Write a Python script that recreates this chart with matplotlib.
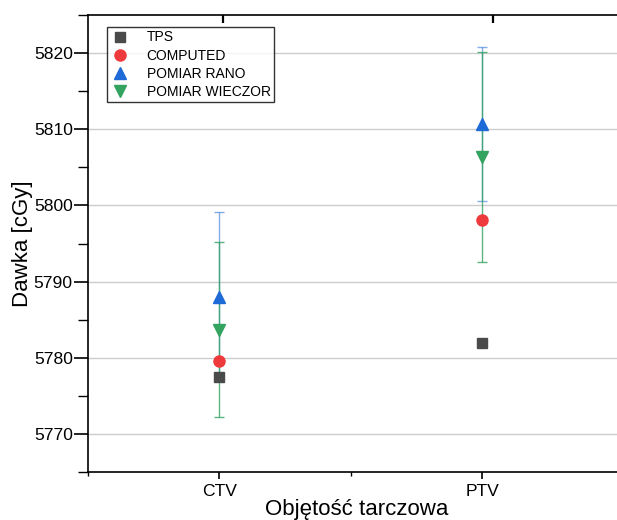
import matplotlib
matplotlib.use("Agg")
import matplotlib.pyplot as plt
import matplotlib.transforms as mtransforms
from matplotlib.lines import TICKDOWN
from matplotlib.ticker import MultipleLocator, NullLocator

plt.rcParams['font.family'] = ['Liberation Sans', 'DejaVu Sans']

categories = ["CTV", "PTV"]
tps = [5777.5, 5781.9]
computed = [5779.6, 5798.1]
rano = [5788.0, 5810.7]
rano_err = [11.1, 10.1]
wieczor = [5783.7, 5806.4]
wieczor_err = [11.5, 13.8]

c_tps = "#4a4a4a"
c_comp = "#ee3a3c"
c_rano = "#1e6ad6"
c_wiec = "#33a360"

W, H = 617, 520
fig = plt.figure(figsize=(W / 100, H / 100), dpi=100)
left, right, top, bottom = 88, 700, 15, 472
aw, ah = right - left, bottom - top
ax = fig.add_axes([left / W, (H - bottom) / H, aw / W, ah / H])

x = [1, 2]
px_per_unit = 262.7
ax.set_xlim(0.5, 0.5 + aw / px_per_unit)
ax.set_ylim(5765, 5825)

ax.errorbar(x, rano, yerr=rano_err, fmt="none", ecolor=c_rano, elinewidth=1.0,
            capsize=3.3, capthick=1.0, alpha=0.55, zorder=2)
ax.errorbar(x, wieczor, yerr=wieczor_err, fmt="none", ecolor=c_wiec, elinewidth=1.0,
            capsize=3.3, capthick=1.0, alpha=0.8, zorder=2)

ax.plot(x, tps, ls="none", marker="s", ms=7, color=c_tps, label="TPS", zorder=3)
ax.plot(x, computed, ls="none", marker="o", ms=8, color=c_comp, label="COMPUTED", zorder=3)
ax.plot(x, rano, ls="none", marker="^", ms=9, color=c_rano, label="POMIAR RANO", zorder=3)
ax.plot(x, wieczor, ls="none", marker="v", ms=9, color=c_wiec, label="POMIAR WIECZOR", zorder=3)

ax.set_xticks(x)
ax.set_xticklabels(categories)
ax.xaxis.set_minor_locator(NullLocator())
ax.yaxis.set_major_locator(MultipleLocator(10))
ax.yaxis.set_minor_locator(MultipleLocator(5))
ax.grid(axis="y", which="major", color="#cccccc", lw=1.0)
ax.set_axisbelow(True)

for s in ["left", "bottom", "top"]:
    ax.spines[s].set_linewidth(1.2)
ax.spines["right"].set_visible(False)

ax.tick_params(axis="y", which="major", direction="out", length=10, width=1.2,
               labelsize=12.6, pad=1)
ax.tick_params(axis="y", which="minor", direction="out", length=7, width=1.0)
ax.tick_params(axis="x", which="major", direction="out", length=5, width=1.2,
               labelsize=12.6, pad=4)

# short ticks between categories below the frame, inward ticks along the top
edge = mtransforms.blended_transform_factory(ax.transData, ax.transAxes)
ax.plot([0.5, 1.5], [0, 0], transform=edge, ls="none", marker=TICKDOWN,
        ms=3, mew=1.0, color="black", clip_on=False, zorder=5)
ax.plot([1.015, 2.04], [1, 1], transform=edge, ls="none", marker=TICKDOWN,
        ms=6, mew=1.6, color="black", clip_on=False, zorder=5)

ax.set_ylabel("Dawka [cGy]", fontsize=16)
ax.yaxis.set_label_coords((33 - left) / aw, 0.5)
ax.set_xlabel("Objętość tarczowa", fontsize=16)
ax.xaxis.set_label_coords((356.5 - left) / aw, -(499 - bottom) / ah)

leg = ax.legend(loc="upper left",
                bbox_to_anchor=((107 - left) / aw, 1 - (27 - top) / ah),
                fontsize=10, frameon=True, fancybox=False, edgecolor="black",
                borderpad=0.25, labelspacing=0.3, handletextpad=1.2, handlelength=1.4,
                borderaxespad=0)
leg.get_frame().set_linewidth(1.0)

fig.savefig("out.png", dpi=100)
